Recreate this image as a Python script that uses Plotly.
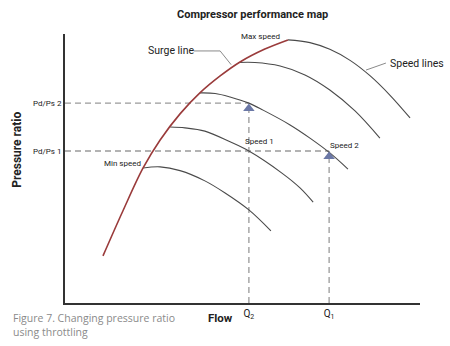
import plotly.graph_objects as go

# ---- data (flow, pressure ratio in arbitrary 0-100 units) ----
surge_flow = [10.7, 16.3, 22.0, 26.8, 32.4, 38.0, 43.7, 49.3, 56.3, 62.8]
surge_pr = [17.5, 34.2, 50.2, 60.6, 70.3, 78.1, 84.4, 89.6, 94.4, 97.8]

max_flow = [62.8, 69.0, 74.6, 80.3, 85.9, 91.5, 97.2]
max_pr = [97.8, 96.8, 94.3, 90.2, 84.5, 77.3, 68.8]

s4_flow = [48.8, 53.5, 60.6, 67.6, 74.6, 81.7, 88.7]
s4_pr = [89.4, 89.4, 88.1, 84.8, 79.2, 71.4, 61.3]

s3_flow = [38.0, 42.3, 46.5, 51.8, 55.8, 63.4, 69.0, 74.6, 79.7]
s3_pr = [78.1, 77.9, 76.6, 74.3, 71.7, 66.2, 61.3, 55.8, 49.8]

s2_flow = [29.6, 33.8, 39.4, 46.5, 51.8, 61.1, 66.2, 69.9]
s2_pr = [65.4, 65.1, 63.9, 59.9, 56.5, 48.3, 42.8, 37.5]

min_flow = [22.0, 26.8, 32.4, 39.4, 45.1, 51.8, 58.0]
min_pr = [50.2, 50.6, 49.2, 45.4, 40.9, 34.6, 26.8]

q_labels = ["Q<sub>2</sub>", "Q<sub>1</sub>"]
q_values = [51.8, 74.4]
pr_labels = ["Pd/Ps 2", "Pd/Ps 1"]
pr_values = [74.3, 56.5]

FONT = "Liberation Sans Narrow, Roboto, sans-serif"
SPEED_COL = "#4a4a4a"
SURGE_COL = "#9a3b3b"
DASH_COL = "#9a9a9a"
ARROW_COL = "#6b78a6"

fig = go.Figure()

# dashed guide lines
for q, p in zip(q_values, pr_values):
    fig.add_trace(go.Scatter(x=[0, q], y=[p, p], mode="lines",
                             line=dict(color=DASH_COL, width=1.3, dash="6px,4px"),
                             hoverinfo="skip", showlegend=False))
    fig.add_trace(go.Scatter(x=[q, q], y=[0, p], mode="lines",
                             line=dict(color=DASH_COL, width=1.3, dash="6px,4px"),
                             hoverinfo="skip", showlegend=False))

# speed lines
for fx, fy in [(max_flow, max_pr), (s4_flow, s4_pr), (s3_flow, s3_pr),
               (s2_flow, s2_pr), (min_flow, min_pr)]:
    fig.add_trace(go.Scatter(x=fx, y=fy, mode="lines", line_shape="spline",
                             line=dict(color=SPEED_COL, width=1.1),
                             hoverinfo="skip", showlegend=False))

# surge line
fig.add_trace(go.Scatter(x=surge_flow, y=surge_pr, mode="lines", line_shape="spline",
                         line=dict(color=SURGE_COL, width=1.6),
                         hoverinfo="skip", showlegend=False))

# arrow heads
fig.add_trace(go.Scatter(x=q_values, y=[p - 2.0 for p in pr_values], mode="markers",
                         marker=dict(symbol="triangle-up", size=10, color=ARROW_COL),
                         hoverinfo="skip", showlegend=False, cliponaxis=False))

# leader lines
fig.add_trace(go.Scatter(x=[36.3, 43.7, 46.8], y=[93.7, 93.7, 88.6], mode="lines",
                         line=dict(color="#8a8a8a", width=1), hoverinfo="skip",
                         showlegend=False, cliponaxis=False))
fig.add_trace(go.Scatter(x=[84.8, 90.4], y=[86.6, 89.2], mode="lines",
                         line=dict(color="#8a8a8a", width=1), hoverinfo="skip",
                         showlegend=False, cliponaxis=False))

ann = []
def txt(x, y, t, size, xref="x", yref="y", xanchor="center", yanchor="middle",
        color="#222", family=FONT, **kw):
    d = dict(x=x, y=y, xref=xref, yref=yref, text=t, showarrow=False,
             xanchor=xanchor, yanchor=yanchor,
             font=dict(family=family, size=size, color=color))
    d.update(kw)
    ann.append(d)

txt(29.9, 93.7, "Surge line", 10.5)
txt(55.2, 98.9, "Max speed", 8)
txt(16.2, 51.7, "Min speed", 8)
txt(54.9, 59.9, "Speed 1", 8)
txt(78.6, 58.4, "Speed 2", 8)
txt(91.0, 89.2, "Speed lines", 10.5, xanchor="left")

txt(0.527, 1.071, "<b>Compressor performance map</b>", 11, xref="paper", yref="paper")
txt(0.437, -0.056, "<b>Flow</b>", 11.5, xref="paper", yref="paper")
txt(-0.135, 0.57, "<b>Pressure ratio</b>", 12, xref="paper", yref="paper",
    textangle=-90)
txt(-0.152, -0.083, "Figure 7. Changing pressure ratio<br>using throttling", 10.5,
    xref="paper", yref="paper", xanchor="left", align="left",
    color="#8a8a8a", family="Open Sans, sans-serif")

fig.update_layout(
    width=450, height=346,
    margin=dict(l=65, r=30, t=34, b=43),
    paper_bgcolor="white", plot_bgcolor="white",
    annotations=ann,
    xaxis=dict(range=[0, 100], showgrid=False, zeroline=False, showline=True,
               linecolor="#333", linewidth=2, tickvals=q_values, ticktext=q_labels,
               ticks="", tickfont=dict(family=FONT, size=10, color="#222")),
    yaxis=dict(range=[0, 100], showgrid=False, zeroline=False, showline=True,
               linecolor="#333", linewidth=2, tickvals=pr_values, ticktext=pr_labels,
               ticks="", tickfont=dict(family=FONT, size=8, color="#222")),
)

fig.write_html("out.html")
